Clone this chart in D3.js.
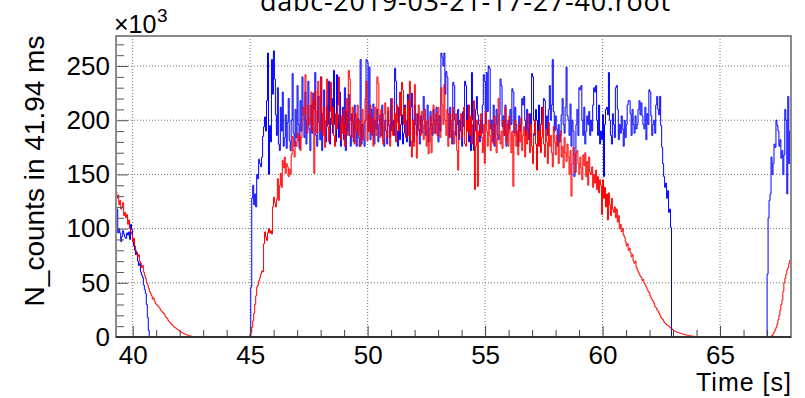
<!DOCTYPE html>
<html>
<head>
<meta charset="utf-8">
<script src="https://cdn.jsdelivr.net/npm/d3@7"></script>
<style>
  body { margin: 0; background: #fff; }
  svg { display: block; }
  text { font-family: "Liberation Sans", Arial, sans-serif; fill: #000; }
</style>
</head>
<body>
<div id="chart"></div>
<script>
// histogram binning (seconds)
const binWidth = 0.04194
const firstBinStart = 39.28
const nBins = 687

const xTicksMajor = [40, 45, 50, 55, 60, 65]
const yTicksMajor = [0, 50, 100, 150, 200, 250]

// counts in units of 10^3, each segment starts at a bin index, other bins are 0
const blueLeftStart = 0
const blueLeft = [112, 118, 96, 100, 96, 88, 93, 98, 95, 92, 91, 96, 94, 97, 90, 104, 99, 88, 84, 80,
  76, 78, 70, 66, 68, 60, 57, 55, 48, 44, 40, 30, 18, 6]

const blueMainStart = 137
const blueMain = [46, 128, 140, 122, 132, 120, 150, 146, 164, 160, 157, 166, 185, 194, 203, 190, 218, 262, 150, 195, 180, 256, 224, 264,
  238, 205, 186, 230, 178, 172, 212, 190, 226, 176, 184, 205, 174, 198, 220, 181, 172, 200, 243, 188,
  176, 210, 184, 232, 196, 174, 218, 190, 240, 205, 184, 226, 178, 200, 236, 192, 172, 214, 188, 225,
  210, 244, 186, 176, 222, 198, 182, 240, 172, 206, 228, 190, 180, 214, 196, 236, 178, 202, 220, 188,
  246, 196, 180, 242, 205, 184, 226, 176, 194, 212, 182, 230, 172, 208, 190, 224, 186, 176, 206, 198,
  180, 214, 190, 176, 202, 184, 176, 256, 178, 196, 182, 176, 200, 256, 254, 190, 249, 182, 210, 186,
  215, 178, 200, 192, 210, 180, 196, 205, 186, 214, 182, 176, 200, 190, 178, 208, 195, 184, 220, 190,
  200, 186, 248, 236, 190, 176, 212, 182, 196, 205, 178, 188, 214, 192, 180, 224, 218, 176, 212, 225,
  200, 180, 214, 196, 186, 206, 192, 178, 204, 188, 200, 222, 210, 186, 198, 214, 180, 192, 208, 196,
  186, 210, 200, 188, 212, 196, 180, 204, 190, 262, 258, 250, 262, 224, 245, 240, 206, 184, 212, 190,
  178, 235, 232, 200, 186, 196, 210, 182, 200, 190, 176, 208, 194, 236, 232, 190, 214, 180, 198, 172,
  244, 200, 172, 190, 210, 222, 205, 196, 180, 200, 188, 214, 242, 236, 196, 244, 208, 250, 248, 192,
  200, 180, 214, 176, 196, 210, 186, 182, 205, 238, 232, 194, 204, 186, 214, 176, 186, 200, 192, 210,
  196, 229, 226, 188, 212, 196, 186, 176, 204, 190, 196, 220, 214, 222, 200, 186, 210, 192, 182, 206,
  196, 243, 240, 200, 186, 210, 200, 182, 214, 176, 196, 212, 200, 220, 218, 192, 204, 186, 210, 232,
  200, 214, 256, 208, 190, 204, 192, 176, 196, 180, 186, 205, 220, 196, 188, 212, 249, 204, 200, 186,
  215, 176, 200, 190, 148, 152, 196, 210, 186, 230, 228, 232, 200, 186, 212, 178, 190, 204, 196, 208,
  186, 200, 190, 214, 230, 226, 232, 200, 186, 214, 178, 190, 182, 205, 148, 196, 210, 212, 205, 244,
  200, 186, 178, 206, 196, 184, 230, 232, 210, 182, 196, 188, 204, 192, 176, 200, 184, 196, 214, 218,
  218, 206, 186, 210, 196, 188, 204, 192, 196, 210, 218, 205, 216, 204, 196, 192, 212, 182,
  206, 196, 228, 226, 204, 186, 196, 200, 188, 214, 222, 210, 205, 222, 195, 175, 160, 148, 138, 142,
  128, 135, 115, 118, 101]

const blueRightStart = 661
const blueRight = [58, 110, 126, 132, 166, 150, 160, 178, 175, 200, 195, 190, 176, 182, 165, 172, 150, 168, 210, 200,
  132, 222, 160, 190, 215, 180]

const redLeftStart = 0
const redLeft = [134, 128, 131, 122, 126, 118, 120, 124, 112, 115, 110, 113, 104, 108, 100, 97, 95, 88, 91, 84,
  80, 78, 74, 76, 70, 68, 64, 66, 60, 57, 54, 50, 48, 45, 42, 40, 38, 35, 36, 33,
  31, 30, 29, 28, 27, 25, 24, 23, 22, 21, 19, 18, 17, 15, 14, 13, 12, 11, 10, 9,
  8.5, 8, 7, 6.5, 6, 5, 4.5, 4, 3.5, 3, 2.6, 2.2, 1.9, 1.6, 1.3, 1.0, 0.8, 0.6, 0.4]

const redMainStart = 135
const redMain = [0.5, 2, 4, 9, 15, 22, 30, 38, 46, 48, 52, 55, 58, 61, 60, 86, 97, 92, 89, 96,
  100, 96, 98, 95, 120, 129, 124, 120, 127, 146, 126, 140, 151, 138, 163, 156, 166, 151, 160, 157,
  148, 155, 150, 168, 185, 172, 166, 180, 176, 188, 181, 186, 172, 184, 200,
  212, 206, 242, 198, 188, 214, 196, 202, 226, 190, 218, 151, 227, 208, 188, 236, 222, 190, 240, 206,
  186, 212, 175, 200, 238, 194, 180, 208, 235, 196, 212, 186, 176, 206, 192, 214, 240, 198, 182, 204,
  188, 210, 176, 196, 220, 186, 246, 238, 200, 184, 212, 196, 178, 206, 190, 214, 186, 200, 176, 196,
  210, 182, 198, 220, 236, 181, 206, 190, 214, 188, 202, 176, 196, 212, 186, 240, 234, 200, 184, 210,
  194, 178, 206, 216, 190, 184, 212, 196, 176, 200, 220, 186, 194, 206, 180, 214, 198, 190, 226, 204,
  235, 228, 196, 212, 184, 200, 218, 186, 236, 181, 166, 200, 176, 233, 206, 165, 190, 214, 196, 186,
  208, 196, 182, 210, 192, 176, 200, 169, 180, 204, 170, 196, 214, 188, 200, 206, 186, 212, 196, 184,
  230, 214, 196, 233, 200, 186, 210, 176, 194, 206, 184, 200, 212, 178, 190, 206, 172, 154, 188, 200,
  206, 184, 196, 212, 178, 176, 200, 190, 214, 186, 204, 178, 196, 218, 136, 176, 200, 139, 190, 186,
  206, 184, 170, 196, 160, 208, 190, 176, 200, 186, 172, 196, 190, 178, 204, 184, 170, 196, 220, 186,
  178, 190, 174, 200, 186, 212, 180, 196, 176, 204, 188, 170, 190, 139, 186, 200, 176, 190, 168, 196,
  180, 202, 172, 186, 194, 166, 190, 178, 206, 184, 170, 196, 176, 160, 188, 200, 178, 154, 190, 176,
  196, 170, 184, 212, 178, 166, 192, 180, 160, 198, 176, 186, 170, 157, 194, 180, 168, 186, 176, 160,
  180, 190, 166, 176, 156, 184, 170, 162, 178, 166, 150, 172, 130, 160, 175, 168, 152, 170,
  172, 160, 150, 166, 156, 145, 168, 158, 170, 148, 162, 140, 166, 152, 150, 157, 138, 150, 142, 154,
  136, 148, 133, 145, 140, 113, 145, 128, 138, 120, 132, 108, 133, 122, 112, 128, 118, 115, 120, 110,
  118, 106, 112, 100, 104, 97, 100, 94, 92, 88, 84, 86, 80, 82, 78, 74, 76, 70, 68, 70,
  64, 62, 60, 58, 56, 55, 52, 53, 50, 48, 46, 44, 42, 41, 38, 36, 34, 33, 31, 28,
  27, 25, 24, 22, 20, 18, 17, 16, 14, 13, 12, 11, 10.5, 10, 9, 8, 7.5, 7, 6, 5.5,
  5, 4.5, 4.2, 4, 3.6, 3.3, 3, 2.8, 2.5, 2.2, 2, 1.8, 1.6, 1.4, 1.2, 1, 0.9, 0.8, 0.6, 0.5, 0.4]

const redRightStart = 664
const redRight = [0.5, 1, 1.5, 3, 5, 7, 9, 12, 16, 20, 25, 30, 34, 42, 50, 54, 58, 62, 64, 68,
  71, 72, 75]

const W = 805, H = 398
const margin = {top: 36, right: 14, bottom: 61, left: 116}
const width = W - margin.left - margin.right
const height = H - margin.top - margin.bottom

function buildBins(segments){
  let bins = new Array(nBins).fill(0)
  for(let s of segments){
    s.values.forEach((v, k) => {
      if(s.start + k < nBins){ bins[s.start + k] = v }
    })
  }
  return bins
}

const blueBins = buildBins([
  {start: blueLeftStart, values: blueLeft},
  {start: blueMainStart, values: blueMain},
  {start: blueRightStart, values: blueRight}])
const redBins = buildBins([
  {start: redLeftStart, values: redLeft},
  {start: redMainStart, values: redMain},
  {start: redRightStart, values: redRight}])

const svg = d3.select("#chart").append("svg")
  .attr("width", W)
  .attr("height", H)

const g = svg.append("g")
  .attr("transform", "translate(" + margin.left + "," + margin.top + ")")

const x = d3.scaleLinear().domain([39.29, 68.02]).range([0, width])
const y = d3.scaleLinear().domain([0, 277.7]).range([height, 0])

// grid
g.append("g").selectAll("line").data(xTicksMajor).join("line")
  .attr("x1", d => x(d)).attr("x2", d => x(d))
  .attr("y1", 0).attr("y2", height)
  .attr("stroke", "#777").attr("stroke-width", 1).attr("stroke-dasharray", "1,2")
g.append("g").selectAll("line").data(yTicksMajor.filter(d => d > 0)).join("line")
  .attr("x1", 0).attr("x2", width)
  .attr("y1", d => y(d)).attr("y2", d => y(d))
  .attr("stroke", "#777").attr("stroke-width", 1).attr("stroke-dasharray", "1,2")

g.append("clipPath").attr("id", "plotClip")
  .append("rect").attr("width", width).attr("height", height)

function stepPath(bins){
  let pts = bins.map((v, i) => [firstBinStart + i * binWidth, v])
  pts.push([firstBinStart + nBins * binWidth, bins[nBins - 1]])
  return d3.line()
    .x(d => x(d[0]))
    .y(d => y(d[1]))
    .curve(d3.curveStepAfter)(pts)
}

const plot = g.append("g").attr("clip-path", "url(#plotClip)")
plot.append("path")
  .attr("d", stepPath(blueBins))
  .attr("fill", "none")
  .attr("stroke", "#0000ff")
  .attr("stroke-width", 1)
plot.append("path")
  .attr("d", stepPath(redBins))
  .attr("fill", "none")
  .attr("stroke", "#ff0000")
  .attr("stroke-width", 1)

// minor ticks
const xMinor = d3.range(40, 69, 1).filter(d => d % 5 != 0)
g.append("g")
  .attr("transform", "translate(0," + height + ")")
  .call(d3.axisBottom(x).tickValues(xMinor).tickSize(-7).tickFormat(""))
  .call(a => a.select(".domain").remove())
  .selectAll("line").attr("stroke", "#444")
const yMinor = d3.range(10, 277, 10).filter(d => d % 50 != 0)
g.append("g")
  .call(d3.axisLeft(y).tickValues(yMinor).tickSize(-8).tickFormat(""))
  .call(a => a.select(".domain").remove())
  .selectAll("line").attr("stroke", "#555")

// major ticks + labels
const xAxis = g.append("g")
  .attr("transform", "translate(0," + height + ")")
  .call(d3.axisBottom(x).tickValues(xTicksMajor).tickSize(-11).tickPadding(9))
xAxis.select(".domain").remove()
xAxis.selectAll("line").attr("stroke", "#444")
xAxis.selectAll("text").style("font-size", "26px").attr("fill", "#000")

const yAxis = g.append("g")
  .call(d3.axisLeft(y).tickValues(yTicksMajor).tickSize(-12).tickPadding(6))
yAxis.select(".domain").remove()
yAxis.selectAll("line").attr("stroke", "#555")
yAxis.selectAll("text").style("font-size", "26px").attr("fill", "#000")

// frame
g.append("rect")
  .attr("width", width).attr("height", height)
  .attr("fill", "none").attr("stroke", "#8a8a8a").attr("stroke-width", 2)
g.append("line")
  .attr("x1", 0).attr("x2", width).attr("y1", height).attr("y2", height)
  .attr("stroke", "#333").attr("stroke-width", 2)

// texts
svg.append("text")
  .attr("x", 465).attr("y", 11)
  .attr("text-anchor", "middle")
  .attr("textLength", 410)
  .style("font-family", "'Open Sans', sans-serif")
  .style("font-size", "27px")
  .text("dabc-2019-03-21-17-27-40.root")

svg.append("text")
  .attr("x", 114).attr("y", 33)
  .style("font-size", "25px")
  .text("\u00d710")
svg.append("text")
  .attr("x", 157).attr("y", 22)
  .style("font-size", "19px")
  .text("3")

svg.append("text")
  .attr("x", 791).attr("y", 391)
  .attr("text-anchor", "end")
  .attr("textLength", 95)
  .style("font-size", "25px")
  .text("Time [s]")

svg.append("text")
  .attr("transform", "translate(44,171) rotate(-90)")
  .attr("text-anchor", "middle")
  .style("font-size", "28px")
  .text("N_counts in 41.94 ms")
</script>
</body>
</html>
